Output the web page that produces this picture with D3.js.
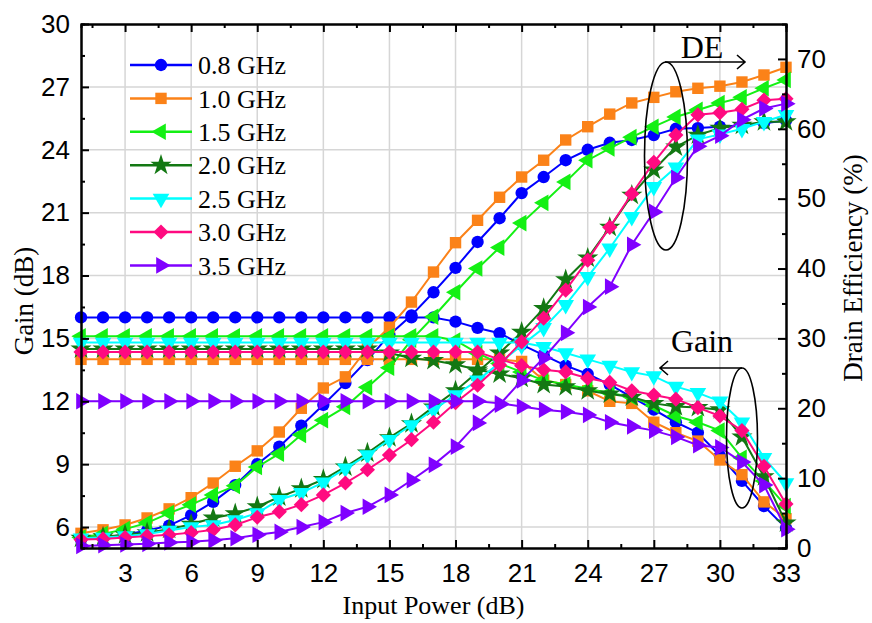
<!DOCTYPE html>
<html>
<head>
<meta charset="utf-8">
<script src="https://cdn.jsdelivr.net/npm/d3@7"></script>
<style>
    body { margin: 0; background: #fff; }
    svg { font-family: "Liberation Serif", "Times New Roman", serif; }
    .axis text { font-size: 26px; fill: #000; }
    .axis path, .axis line { stroke: #000; stroke-width: 2; }
    .grid line { stroke: #d6d6d6; stroke-width: 1.5; }
</style>
</head>
<body>
<div id="chart"></div>
<script>
const inputPower = [1, 2, 3, 4, 5, 6, 7, 8, 9, 10, 11, 12, 13, 14, 15, 16, 17,
    18, 19, 20, 21, 22, 23, 24, 25, 26, 27, 28, 29, 30, 31, 32, 33];

const frequencies = ['0.8 GHz', '1.0 GHz', '1.5 GHz', '2.0 GHz', '2.5 GHz', '3.0 GHz', '3.5 GHz'];

// gain (dB), left axis
const gain08 = [16, 16, 16, 16, 16, 16, 16, 16, 16, 16, 16, 16, 16, 16, 16, 16, 16,
    15.8, 15.5, 15.25, 14.7, 14.2, 13.7, 13.3, 12.8, 12.2, 11.6, 11.0, 10.5, 9.4, 8.2, 7.0, 5.95];
const gain10 = [14, 14, 14, 14, 14, 14, 14, 14, 14, 14, 14, 14, 14, 14, 14, 14, 14,
    14, 14, 14, 13.9, 13.0, 12.8, 12.5, 12.0, 11.9, 11.0, 10.5, 10.1, 9.2, 8.5, 7.2, 6.4];
const gain15 = [15.1, 15.1, 15.1, 15.1, 15.1, 15.1, 15.1, 15.1, 15.1, 15.1, 15.1, 15.1, 15.1, 15.1, 15.1, 15.1, 15.1,
    14.9, 14.3, 13.8, 13.4, 13.0, 12.8, 12.6, 12.4, 12.2, 11.8, 11.3, 11.0, 10.6, 9.3, 8.2, 7.0];
const gain20 = [14.5, 14.5, 14.5, 14.5, 14.5, 14.5, 14.5, 14.5, 14.5, 14.5, 14.5, 14.5, 14.5, 14.5,
    14.3, 14.05, 13.95, 13.75, 13.5, 13.3, 13.1, 12.8, 12.7, 12.5, 12.35, 12.2, 11.9, 11.75, 11.7, 11.6, 10.3, 8.4, 6.2];
const gain25 = [14.8, 14.8, 14.8, 14.8, 14.8, 14.8, 14.8, 14.8, 14.8, 14.8, 14.8, 14.8, 14.8, 14.8, 14.8, 14.8, 14.8,
    14.8, 14.8, 14.8, 14.8, 14.6, 14.3, 14.0, 13.7, 13.4, 13.2, 12.7, 12.4, 12.0, 11.0, 9.3, 8.1];
const gain30 = [14.35, 14.35, 14.35, 14.35, 14.35, 14.35, 14.35, 14.35, 14.35, 14.35, 14.35, 14.35, 14.35, 14.35, 14.35, 14.35, 14.35,
    14.35, 14.35, 14.0, 13.7, 13.5, 13.4, 13.1, 12.9, 12.5, 12.3, 12.1, 11.7, 11.3, 10.6, 8.9, 7.1];
const gain35 = [12, 12, 12, 12, 12, 12, 12, 12, 12, 12, 12, 12, 12, 12, 12, 12, 12,
    12, 12, 11.9, 11.75, 11.6, 11.5, 11.35, 11.0, 10.8, 10.6, 10.3, 9.9, 9.8, 9.1, 8.0, 5.9];

// drain efficiency (%), right axis
const de08 = [1.2, 1.5, 1.9, 2.5, 3.2, 4.7, 6.6, 9.0, 12.0, 14.5, 17.5, 20.5, 23.6, 26.9, 30.5, 33.3, 36.6,
    40.1, 43.8, 47.2, 50.8, 53.1, 55.5, 57.0, 58.0, 58.4, 59.1, 60.0, 60.1, 60.3, 60.5, 60.8, 61.2];
const de10 = [2.1, 2.6, 3.3, 4.3, 5.6, 7.2, 9.3, 11.7, 13.9, 16.6, 20.0, 22.9, 24.5, 28.6, 31.6, 35.2, 39.5,
    43.7, 46.9, 50.2, 53.1, 55.5, 58.4, 60.3, 62.1, 63.7, 64.5, 65.3, 65.8, 66.1, 66.7, 67.7, 68.8];
const de15 = [1.5, 2.0, 2.7, 3.6, 5.0, 6.2, 7.6, 8.9, 11.6, 13.5, 16.2, 18.3, 20.2, 23.0, 25.8, 29.8, 33.1,
    36.6, 40.0, 43.0, 46.5, 49.4, 52.4, 55.5, 57.2, 58.8, 60.3, 61.7, 62.7, 63.7, 64.5, 65.8, 67.0];
const de20 = [1.4, 1.6, 1.9, 2.2, 2.7, 3.4, 4.3, 4.9, 5.9, 7.3, 8.5, 9.8, 11.6, 13.6, 15.8, 17.8, 20.2,
    22.5, 25.2, 27.9, 30.9, 34.3, 38.4, 41.5, 45.9, 50.5, 54.1, 57.4, 59.1, 60.1, 60.5, 61.0, 61.0];
const de25 = [1.4, 1.5, 1.7, 2.0, 2.5, 3.0, 3.3, 4.0, 5.0, 6.9, 7.9, 9.4, 11.4, 13.3, 15.5, 17.6, 19.8,
    21.9, 24.0, 26.5, 29.0, 31.5, 34.8, 38.8, 42.9, 47.4, 51.7, 54.5, 58.5, 59.2, 60.0, 61.0, 62.0];
const de30 = [1.2, 1.3, 1.5, 1.7, 1.9, 2.2, 2.6, 3.3, 4.4, 5.2, 6.2, 7.6, 9.3, 11.2, 13.3, 15.5, 18.0,
    20.8, 23.3, 26.2, 29.5, 32.9, 36.9, 41.2, 45.9, 50.7, 55.2, 59.1, 62.0, 62.3, 62.8, 64.1, 64.3];
const de35 = [0.3, 0.4, 0.5, 0.6, 0.8, 0.9, 1.1, 1.4, 1.9, 2.3, 3.0, 3.7, 5.0, 5.9, 7.6, 9.7, 11.9,
    14.5, 17.9, 20.5, 24.0, 27.2, 30.8, 34.5, 37.4, 43.4, 48.1, 53.0, 57.5, 59.0, 61.3, 62.9, 63.6];

const gainTicks = [6, 9, 12, 15, 18, 21, 24, 27, 30];
const deTicks = [0, 10, 20, 30, 40, 50, 60, 70];
const powerTicks = [3, 6, 9, 12, 15, 18, 21, 24, 27, 30, 33];

const width = 872,
    height = 623;
const margin = {top: 24, right: 86, bottom: 75, left: 81};

const series = [
    {name: frequencies[0], gain: gain08, de: de08, color: '#0000ff', marker: 'circle'},
    {name: frequencies[1], gain: gain10, de: de10, color: '#fb8218', marker: 'square'},
    {name: frequencies[2], gain: gain15, de: de15, color: '#14f014', marker: 'left'},
    {name: frequencies[3], gain: gain20, de: de20, color: '#137813', marker: 'star'},
    {name: frequencies[4], gain: gain25, de: de25, color: '#00ffff', marker: 'down'},
    {name: frequencies[5], gain: gain30, de: de30, color: '#ff0a80', marker: 'diamond'},
    {name: frequencies[6], gain: gain35, de: de35, color: '#8000ff', marker: 'right'}
];

function markerShape(kind) {
    const sym = d3.symbol();
    switch (kind) {
        case 'circle': return {d: sym.type(d3.symbolCircle).size(120)(), rot: 0};
        case 'square': return {d: sym.type(d3.symbolSquare).size(130)(), rot: 0};
        case 'diamond': return {d: sym.type(d3.symbolSquare).size(115)(), rot: 45};
        case 'star': return {d: sym.type(d3.symbolStar).size(140)(), rot: 0};
        case 'left': return {d: sym.type(d3.symbolTriangle).size(120)(), rot: -90};
        case 'down': return {d: sym.type(d3.symbolTriangle).size(120)(), rot: 180};
        case 'right': return {d: sym.type(d3.symbolTriangle).size(120)(), rot: 90};
    }
}

const svg = d3.select('#chart').append('svg')
    .attr('width', width)
    .attr('height', height);

const x = d3.scaleLinear()
    .domain([1, 33])
    .range([margin.left, width - margin.right]);

const yGain = d3.scaleLinear()
    .domain([5, 30])
    .range([height - margin.bottom, margin.top]);

const yDE = d3.scaleLinear()
    .domain([0, 75])
    .range([height - margin.bottom, margin.top]);

// grid
const grid = svg.append('g').attr('class', 'grid');
grid.selectAll('line.v')
    .data(powerTicks.filter(d => d < 33))
    .enter().append('line')
    .attr('class', 'v')
    .attr('x1', d => x(d)).attr('x2', d => x(d))
    .attr('y1', margin.top).attr('y2', height - margin.bottom);
grid.selectAll('line.h')
    .data(gainTicks.filter(d => d < 30))
    .enter().append('line')
    .attr('class', 'h')
    .attr('x1', margin.left).attr('x2', width - margin.right)
    .attr('y1', d => yGain(d)).attr('y2', d => yGain(d));

// curves
const plot = svg.append('g');

series.forEach(s => {
    const shape = markerShape(s.marker);
    const g = plot.append('g')
        .attr('fill', s.color)
        .attr('stroke', s.color);

    [[s.gain, yGain], [s.de, yDE]].forEach(([values, yScale]) => {
        const points = inputPower.map((p, i) => ({p: p, v: values[i]}));

        const line = d3.line()
            .x(d => x(d.p))
            .y(d => yScale(d.v));

        g.append('path')
            .datum(points)
            .attr('fill', 'none')
            .attr('stroke-width', 2)
            .attr('d', line);

        g.selectAll(null)
            .data(points)
            .enter().append('path')
            .attr('stroke', 'none')
            .attr('d', shape.d)
            .attr('transform', d => `translate(${x(d.p)},${yScale(d.v)}) rotate(${shape.rot})`);
    });
});

// axes
const xAxis = d3.axisBottom(x)
    .tickValues(powerTicks)
    .tickSizeInner(-8)
    .tickSizeOuter(0)
    .tickPadding(16);

svg.append('g')
    .attr('class', 'x axis')
    .attr('transform', `translate(0,${height - margin.bottom})`)
    .call(xAxis);

svg.append('g')
    .attr('class', 'x axis minor')
    .attr('transform', `translate(0,${height - margin.bottom})`)
    .call(d3.axisBottom(x).tickValues(d3.range(1.5, 33, 3)).tickSize(-4).tickFormat(''));

svg.append('g')
    .attr('class', 'x axis top')
    .attr('transform', `translate(0,${margin.top})`)
    .call(d3.axisTop(x).tickValues(powerTicks).tickSizeInner(-8).tickSizeOuter(0).tickFormat(''));

svg.append('g')
    .attr('class', 'x axis top minor')
    .attr('transform', `translate(0,${margin.top})`)
    .call(d3.axisTop(x).tickValues(d3.range(1.5, 33, 3)).tickSize(-4).tickFormat(''));

const yAxis = d3.axisLeft(yGain)
    .tickValues(gainTicks)
    .tickSizeInner(-8)
    .tickSizeOuter(0)
    .tickPadding(11);

svg.append('g')
    .attr('class', 'y axis')
    .attr('transform', `translate(${margin.left},0)`)
    .call(yAxis);

svg.append('g')
    .attr('class', 'y axis minor')
    .attr('transform', `translate(${margin.left},0)`)
    .call(d3.axisLeft(yGain).tickValues(d3.range(7.5, 30, 3)).tickSize(-4).tickFormat(''));

const yAxisRight = d3.axisRight(yDE)
    .tickValues(deTicks)
    .tickSizeInner(-8)
    .tickSizeOuter(0)
    .tickPadding(11);

svg.append('g')
    .attr('class', 'y axis right')
    .attr('transform', `translate(${width - margin.right},0)`)
    .call(yAxisRight);

svg.append('g')
    .attr('class', 'y axis right minor')
    .attr('transform', `translate(${width - margin.right},0)`)
    .call(d3.axisRight(yDE).tickValues(d3.range(5, 75, 10)).tickSize(-4).tickFormat(''));

svg.selectAll('.minor line').attr('stroke-width', 1.5);

// axis titles
svg.append('text')
    .attr('x', (margin.left + width - margin.right) / 2)
    .attr('y', 614)
    .attr('text-anchor', 'middle')
    .attr('font-size', 26)
    .text('Input Power (dB)');

svg.append('text')
    .attr('transform', 'translate(33,301) rotate(-90)')
    .attr('text-anchor', 'middle')
    .attr('font-size', 27)
    .text('Gain (dB)');

svg.append('text')
    .attr('transform', 'translate(862,268) rotate(-90)')
    .attr('text-anchor', 'middle')
    .attr('font-size', 27)
    .text('Drain Efficiency (%)');

// legend
const legend = svg.append('g')
    .attr('transform', 'translate(130,65)');

const legendItem = legend.selectAll('g')
    .data(series)
    .enter().append('g')
    .attr('transform', (d, i) => `translate(0,${i * 33.4})`);

legendItem.append('line')
    .attr('x1', 0).attr('x2', 62)
    .attr('stroke', d => d.color)
    .attr('stroke-width', 2.5);

legendItem.append('path')
    .attr('fill', d => d.color)
    .attr('d', d => markerShape(d.marker).d)
    .attr('transform', d => `translate(31,0) rotate(${markerShape(d.marker).rot})`);

legendItem.append('text')
    .attr('x', 68)
    .attr('dy', '0.35em')
    .attr('font-size', 26)
    .text(d => d.name);

// annotations
const notes = svg.append('g')
    .attr('fill', 'none')
    .attr('stroke', '#000')
    .attr('stroke-width', 1.6);

notes.append('ellipse')
    .attr('cx', 666).attr('cy', 156)
    .attr('rx', 21.5).attr('ry', 94);
notes.append('path')
    .attr('d', 'M665,62 H745 M737,55 L745,62 L737,69');

notes.append('ellipse')
    .attr('cx', 742).attr('cy', 438)
    .attr('rx', 15.5).attr('ry', 70);
notes.append('path')
    .attr('d', 'M742,368 H660 M668,361 L660,368 L668,375');

svg.append('text')
    .attr('x', 702).attr('y', 58)
    .attr('text-anchor', 'middle')
    .attr('font-size', 32)
    .text('DE');

svg.append('text')
    .attr('x', 702).attr('y', 352)
    .attr('text-anchor', 'middle')
    .attr('font-size', 32)
    .text('Gain');
</script>
</body>
</html>
